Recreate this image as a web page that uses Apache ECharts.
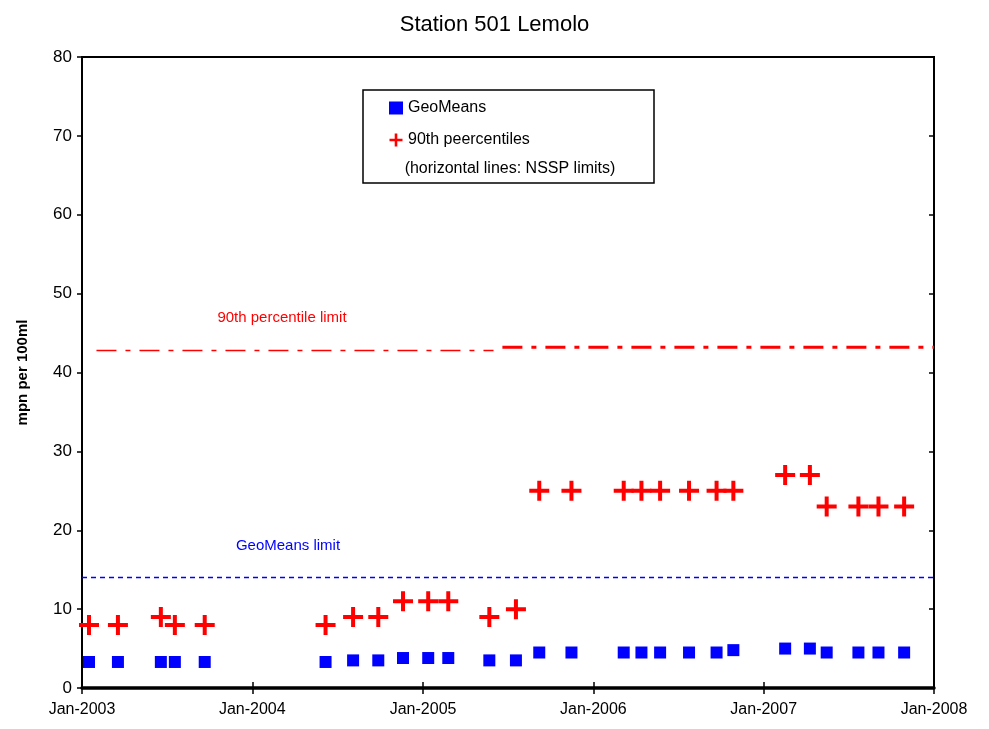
<!DOCTYPE html>
<html><head><meta charset="utf-8">
<script src="https://cdn.jsdelivr.net/npm/echarts@6/dist/echarts.min.js"></script>
<style>html,body{margin:0;padding:0;background:#fff}#c{width:989px;height:729px}</style>
</head><body><div id="c"></div>
<script>
const dates = ['2003-01-16','2003-03-19','2003-06-19','2003-07-19','2003-09-21',
  '2004-06-06','2004-08-04','2004-09-27','2004-11-19','2005-01-12','2005-02-24',
  '2005-05-23','2005-07-19','2005-09-07','2005-11-15','2006-03-07','2006-04-14',
  '2006-05-24','2006-07-25','2006-09-22','2006-10-28','2007-02-16','2007-04-10',
  '2007-05-16','2007-07-23','2007-09-04','2007-10-29'];
const geoMeans = [3.3,3.3,3.3,3.3,3.3,3.3,3.5,3.5,3.8,3.8,3.8,3.5,3.5,4.5,4.5,4.5,4.5,4.5,4.5,4.5,4.8,5,5,4.5,4.5,4.5,4.5];
const p90 = [8,8,9,8,8,8,9,9,11,11,11,9,10,25,25,25,25,25,25,25,25,27,27,23,23,23,23];
const geoLimit = 14;
const geoLimitSpan = ['2003-01-01','2008-01-01'];
const p90LimitA = 42.8;
const p90LimitASpan = ['2003-02-01','2005-06-01'];
const p90LimitB = 43.2;
const p90LimitBSpan = ['2005-06-20','2008-01-01'];
const yTicks = [0,10,20,30,40,50,60,70,80];

const cross = 'path://M0,8h20v4H0z M8,0h4v20H8z';
const chart = echarts.init(document.getElementById('c'));
const font = 'Liberation Sans, Arial, sans-serif';
chart.setOption({
  backgroundColor: '#fff',
  animation: false,
  title: { text: 'Station 501 Lemolo', left: 'center', top: 9,
    textStyle: { fontFamily: font, fontSize: 22, fontWeight: 'normal', color: '#000' } },
  legend: {
    orient: 'vertical', left: 389, top: 100, padding: 0, itemGap: 16, itemWidth: 14, itemHeight: 13,
    textStyle: { fontFamily: font, fontSize: 16, color: '#000' },
    data: [{ name: 'GeoMeans', icon: 'rect', itemStyle: { opacity: 1 } },
           { name: '90th peercentiles', icon: cross, itemStyle: { opacity: 1 } }]
  },
  graphic: [
    { type: 'rect', shape: { x: 363, y: 90, width: 291, height: 93 },
      style: { fill: 'none', stroke: '#000', lineWidth: 1.5 }, z: 100 },
    { type: 'text', x: 510, y: 169, style: { text: '(horizontal lines: NSSP limits)', font: '16px ' + font,
      fill: '#000', textAlign: 'center', textVerticalAlign: 'middle' }, z: 100 },
    { type: 'text', x: 282, y: 318, style: { text: '90th percentile limit', font: '15px ' + font,
      fill: '#ff0000', textAlign: 'center', textVerticalAlign: 'middle' }, z: 100 },
    { type: 'text', x: 288, y: 546, style: { text: 'GeoMeans limit', font: '15px ' + font,
      fill: '#0000ff', textAlign: 'center', textVerticalAlign: 'middle' }, z: 100 }
  ],
  grid: { left: 82, right: 55, top: 57, bottom: 41, show: true, borderColor: '#000', borderWidth: 2 },
  xAxis: [{
    type: 'time', min: '2003-01-01', max: '2008-01-01',
    minInterval: 365 * 86400000, maxInterval: 366 * 86400000,
    axisLine: { lineStyle: { color: '#000', width: 2 } },
    axisTick: { inside: true, length: 6, lineStyle: { color: '#000', width: 1.5 } },
    splitLine: { show: false },
    axisLabel: { fontFamily: font, fontSize: 16, color: '#000', margin: 14, hideOverlap: false,
      showMinLabel: true, showMaxLabel: true,
      formatter: v => 'Jan-' + new Date(v).getFullYear() }
  }, {
    type: 'time', position: 'top', min: '2003-01-01', max: '2008-01-01',
    minInterval: 365 * 86400000, maxInterval: 366 * 86400000,
    axisLine: { lineStyle: { color: '#000', width: 3.5 } },
    axisTick: { show: true, inside: true, length: 6, lineStyle: { color: '#000', width: 1.5 } },
    splitLine: { show: false }, axisLabel: { show: false }
  }],
  yAxis: [{
    type: 'value', min: 0, max: 80, interval: 10,
    name: 'mpn per 100ml', nameLocation: 'middle', nameGap: 52,
    nameTextStyle: { fontFamily: font, fontSize: 15, fontWeight: 'bold', color: '#000' },
    axisLine: { show: true, lineStyle: { color: '#000', width: 2 } },
    axisTick: { show: true, inside: false, length: 5, lineStyle: { color: '#000', width: 1.5 } },
    splitLine: { show: false },
    axisLabel: { fontFamily: font, fontSize: 17, color: '#000', margin: 10,
      formatter: v => yTicks.includes(v) ? String(v) : '' }
  }, {
    type: 'value', position: 'right', min: 0, max: 80, interval: 10,
    axisLine: { show: true, lineStyle: { color: '#000', width: 2 } },
    axisTick: { show: true, inside: true, length: 5, lineStyle: { color: '#000', width: 1.5 } },
    splitLine: { show: false }, axisLabel: { show: false }
  }],
  series: [
    { name: 'GeoMeans limit', type: 'line', symbol: 'none', silent: true,
      data: geoLimitSpan.map(d => [d, geoLimit]),
      lineStyle: { color: '#0000ff', width: 1.5, type: [5, 4] } },
    { name: '90th limit A', type: 'line', symbol: 'none', silent: true,
      data: p90LimitASpan.map(d => [d, p90LimitA]),
      lineStyle: { color: '#ff0000', width: 1.5, type: [20, 9, 5, 9] } },
    { name: '90th limit B', type: 'line', symbol: 'none', silent: true,
      data: p90LimitBSpan.map(d => [d, p90LimitB]),
      lineStyle: { color: '#ff0000', width: 3, type: [20, 9, 5, 9] } },
    { name: 'GeoMeans', type: 'scatter', symbol: 'rect', symbolSize: 12,
      itemStyle: { color: '#0000ff', opacity: 1 }, data: dates.map((d, i) => [d, geoMeans[i]]) },
    { name: '90th peercentiles', type: 'scatter', symbol: cross, symbolSize: 20,
      itemStyle: { color: '#ff0000', opacity: 1 }, data: dates.map((d, i) => [d, p90[i]]) }
  ]
});
</script></body></html>
